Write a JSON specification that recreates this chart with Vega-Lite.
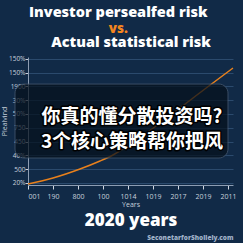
{
  "$schema": "https://vega.github.io/schema/vega-lite/v6.json",
  "width": 205,
  "height": 128,
  "autosize": {"type": "none"},
  "padding": {"left": 28, "top": 57, "right": 10, "bottom": 58},
  "background": "#112a47",
  "config": {"view": {"stroke": null}, "font": "Open Sans"},
  "title": {
    "text": "Investor persealfed risk",
    "subtitle": "vs.",
    "color": "#ffffff",
    "fontSize": 14.5,
    "fontWeight": 800,
    "subtitleColor": "#f5861f",
    "subtitleFontSize": 13.5,
    "subtitleFontWeight": 800,
    "anchor": "middle",
    "frame": "bounds",
    "offset": -2,
    "subtitlePadding": 1
  },
  "datasets": {
    "line": [
      {"x": 0, "y": -0.07},
      {"x": 1.0, "y": 0.36},
      {"x": 2.08, "y": 1.01},
      {"x": 2.88, "y": 1.59},
      {"x": 3.4, "y": 2.03},
      {"x": 4.48, "y": 3.3},
      {"x": 5.48, "y": 4.6},
      {"x": 6.6, "y": 6.16},
      {"x": 8.2, "y": 8.33}
    ],
    "box": [{"x": -0.52, "x2": 8.0, "y": 7.17, "y2": 1.81}],
    "caption": [
      {"t": "你真的懂分散投资吗?", "x": 4.16, "y": 4.8},
      {"t": "3个核心策略帮你把风", "x": 4.16, "y": 2.98}
    ]
  },
  "layer": [
    {
      "data": {"name": "line"},
      "mark": {"type": "line", "color": "#e8801c", "strokeWidth": 1.5, "interpolate": "monotone"},
      "encoding": {
        "x": {
          "field": "x", "type": "quantitative",
          "scale": {"domain": [0, 8.2], "nice": false, "zero": false},
          "axis": {
            "values": [0, 1, 2, 3, 4, 5, 6, 7, 8],
            "labelExpr": "['001','190','800','100','1014','1019','2017','2019','2011'][datum.value]",
            "grid": false,
            "domainColor": "#8d9db3",
            "tickColor": "#d0d8e2",
            "tickSize": 4,
            "labelColor": "#c8d1dd",
            "labelFontSize": 7,
            "labelPadding": 3,
            "title": "Years",
            "titleColor": "#c8d1dd",
            "titleFontSize": 7,
            "titleFontWeight": "normal",
            "titlePadding": 1
          }
        },
        "y": {
          "field": "y", "type": "quantitative",
          "scale": {"domain": [-0.145, 9.13], "nice": false, "zero": false},
          "axis": {
            "values": [0, 1, 2, 3, 4, 5, 6, 7, 8, 9],
            "labelExpr": "['20%','500','40%','450','750','50%','30%','1900','150%','150%'][datum.value]",
            "grid": true,
            "gridColor": "#2b4a6d",
            "domainColor": "#8d9db3",
            "tickColor": "#c8d1dd",
            "tickSize": 3,
            "labelColor": "#c8d1dd",
            "labelFontSize": 6.5,
            "labelPadding": 0,
            "title": "Plealvind",
            "titleColor": "#c8d1dd",
            "titleFontSize": 7,
            "titleFontWeight": "normal",
            "titlePadding": 1
          }
        }
      }
    },
    {
      "data": {"name": "box"},
      "mark": {"type": "rect", "fill": "#05101c", "opacity": 0.72, "cornerRadius": 9, "stroke": "#4a5b70", "strokeWidth": 1},
      "encoding": {
        "x": {
          "field": "x", "type": "quantitative",
          "scale": {"domain": [0, 8.2], "nice": false, "zero": false},
          "axis": {
            "orient": "top",
            "labels": false, "ticks": false, "domain": false, "grid": false,
            "title": "Actual statistical risk",
            "titleColor": "#ffffff",
            "titleFontSize": 14.5,
            "titleFontWeight": 800,
            "titlePadding": 8
          }
        },
        "x2": {"field": "x2"},
        "y": {"field": "y", "type": "quantitative", "scale": {"domain": [-0.145, 9.13], "nice": false, "zero": false}, "axis": null},
        "y2": {"field": "y2"}
      }
    },
    {
      "data": {"name": "caption"},
      "mark": {"type": "text", "font": "Noto Sans CJK SC", "fontWeight": "bold", "fontSize": 19, "color": "#ffffff", "stroke": "#000000", "strokeWidth": 3, "strokeJoin": "round", "baseline": "middle", "align": "center"},
      "encoding": {
        "x": {
          "field": "x", "type": "quantitative",
          "scale": {"domain": [0, 8.2], "nice": false, "zero": false},
          "axis": {
            "orient": "bottom",
            "labels": false, "ticks": false, "domain": false, "grid": false,
            "title": "2020 years",
            "titleColor": "#ffffff",
            "titleFontSize": 17,
            "titleFontWeight": 800,
            "titlePadding": 27
          }
        },
        "y": {"field": "y", "type": "quantitative", "scale": {"domain": [-0.145, 9.13], "nice": false, "zero": false}, "axis": null},
        "text": {"field": "t"}
      }
    },
    {
      "data": {"name": "caption"},
      "mark": {"type": "text", "font": "Noto Sans CJK SC", "fontWeight": "bold", "fontSize": 19, "color": "#ffffff", "baseline": "middle", "align": "center"},
      "encoding": {
        "x": {
          "field": "x", "type": "quantitative",
          "scale": {"domain": [0, 8.2], "nice": false, "zero": false},
          "axis": {
            "orient": "bottom",
            "labels": false, "ticks": false, "domain": false, "grid": false,
            "title": "SeconetarforShollely.com",
            "titleAnchor": "end",
            "titleColor": "#9fb0c8",
            "titleFontSize": 6.5,
            "titleFontWeight": 800,
            "titlePadding": 49
          }
        },
        "y": {"field": "y", "type": "quantitative", "scale": {"domain": [-0.145, 9.13], "nice": false, "zero": false}, "axis": null},
        "text": {"field": "t"}
      }
    }
  ],
  "resolve": {"axis": {"x": "independent", "y": "independent"}}
}
